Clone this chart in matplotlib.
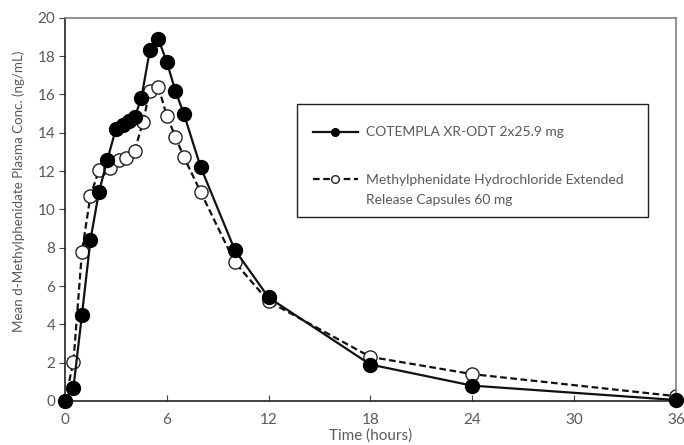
import matplotlib.pyplot as plt
from matplotlib.patches import Rectangle

plt.rcParams['font.family'] = ['Lato', 'DejaVu Sans']

# time points (hours) and mean plasma conc (ng/mL)
t_odt = [0, 0.5, 1, 1.5, 2, 2.5, 3, 3.4, 3.75, 4.1, 4.5, 5, 5.5, 6, 6.5, 7, 8, 10, 12, 18, 24, 36]
c_odt = [0, 0.7, 4.5, 8.4, 10.9, 12.6, 14.2, 14.4, 14.6, 14.8, 15.8, 18.3, 18.9, 17.7, 16.2, 15.0, 12.2, 7.9, 5.4, 1.9, 0.8, 0.05]

t_ref = [0, 0.5, 1, 1.5, 2, 2.65, 3.2, 3.6, 4.1, 4.6, 5, 5.5, 6, 6.5, 7, 8, 10, 12, 18, 24, 36]
c_ref = [0, 2.05, 7.8, 10.7, 12.05, 12.15, 12.6, 12.7, 13.05, 14.55, 16.2, 16.4, 14.9, 13.8, 12.75, 10.9, 7.25, 5.2, 2.3, 1.4, 0.25]

label_odt = 'COTEMPLA XR-ODT 2x25.9 mg'
label_ref = 'Methylphenidate Hydrochloride Extended\nRelease Capsules 60 mg'

xticks = [0, 6, 12, 18, 24, 30, 36]
yticks = list(range(0, 21, 2))

txt = '#595959'
dash = (0, (3, 1.6))

fig = plt.figure(figsize=(6.84, 4.45), dpi=100)
ax = fig.add_axes([0.095, 0.099, 0.893, 0.861])

ax.plot(t_ref, c_ref, color='#111111', linestyle=dash, linewidth=1.6,
        marker='o', markersize=9.5, markerfacecolor='white', markeredgecolor='#222222',
        markeredgewidth=1.0, zorder=2)
ax.plot(t_odt, c_odt, color='#111111', linewidth=1.6,
        marker='o', markersize=10, markerfacecolor='#000000', markeredgecolor='#000000',
        zorder=3, clip_on=False)

ax.set_xlim(0, 36)
ax.set_ylim(0, 20)
ax.set_xticks(xticks)
ax.set_yticks(yticks)
ax.tick_params(axis='x', direction='in', length=4, colors='#404040', labelcolor=txt, labelsize=11, pad=9)
ax.tick_params(axis='y', direction='out', length=4, colors='#404040', labelcolor=txt, labelsize=11, pad=3)

ax.spines['left'].set_color('#222222')
ax.spines['bottom'].set_color('#222222')
ax.spines['top'].set_color('#7f7f7f')
ax.spines['right'].set_color('#7f7f7f')
for s in ax.spines.values():
    s.set_linewidth(1.2)

ax.set_xlabel('Time (hours)', color=txt, fontsize=11, labelpad=1)
ax.set_ylabel('Mean d-Methylphenidate Plasma Conc. (ng/mL)', color=txt, fontsize=9.6)
ax.yaxis.set_label_coords(-0.066, 0.548)

# legend box, drawn by hand to match the layout
tr = ax.transAxes
ax.add_patch(Rectangle((0.3797, 0.4804), 0.5745, 0.2951, transform=tr, fill=False,
                       edgecolor='#222222', linewidth=1.0, zorder=5))
ax.plot([0.4059, 0.4795], [0.7023, 0.7023], transform=tr, color='#111111', linewidth=1.6, zorder=6)
ax.plot([0.4427], [0.7023], transform=tr, marker='o', markersize=5.5, color='#000000', zorder=6)
ax.text(0.4926, 0.7023, label_odt, transform=tr, va='center', ha='left', color=txt, fontsize=10)
ax.plot([0.4059, 0.4795], [0.5796, 0.5796], transform=tr, color='#111111', linestyle=dash,
        linewidth=1.6, zorder=6)
ax.plot([0.4427], [0.5796], transform=tr, marker='o', markersize=5.5, markerfacecolor='white',
        markeredgecolor='#222222', markeredgewidth=1.0, zorder=6)
ax.text(0.4926, 0.5509, label_ref, transform=tr, va='center', ha='left', color=txt,
        fontsize=10, linespacing=1.75)

fig.savefig('out.png', dpi=100)
